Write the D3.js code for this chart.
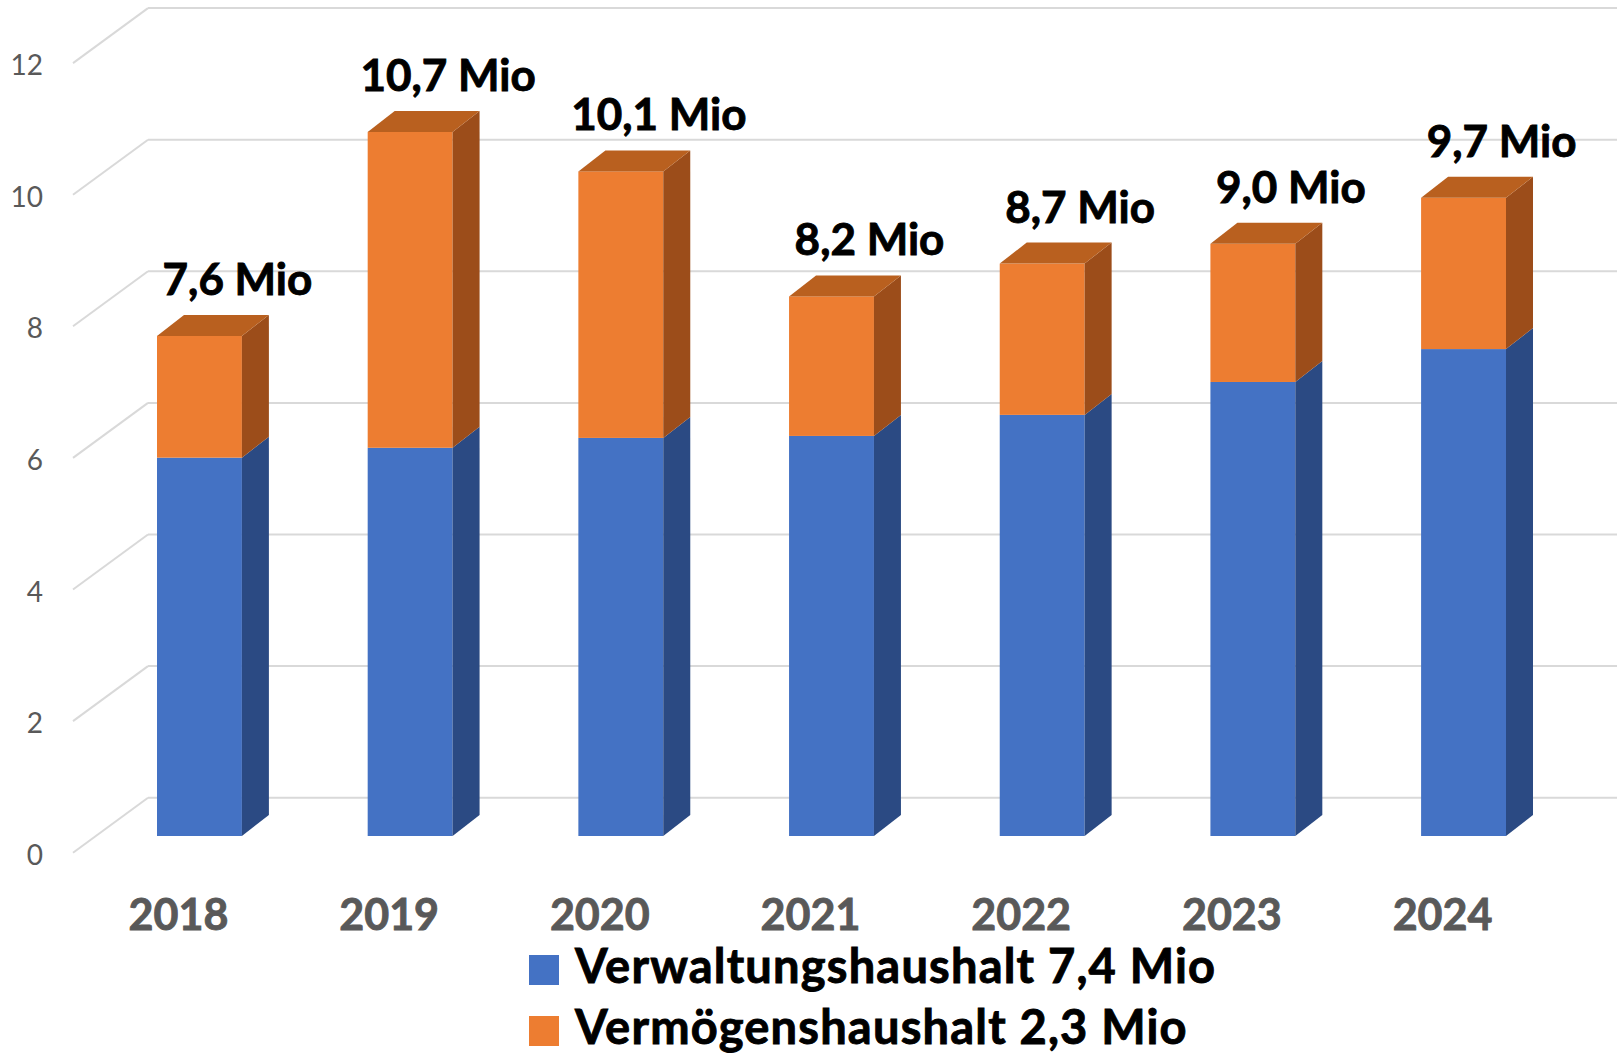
<!DOCTYPE html>
<html>
<head>
<meta charset="utf-8">
<script src="https://cdn.jsdelivr.net/npm/d3@7"></script>
<style>
  html, body { margin: 0; padding: 0; background: #fff; }
  svg { display: block; font-family: Lato, "Noto Sans", sans-serif; }
</style>
</head>
<body>
<svg id="chart" width="1621" height="1053"></svg>
<script>
// data
var years = ['2018', '2019', '2020', '2021', '2022', '2023', '2024'];
var verwaltung = [5.75, 5.9, 6.05, 6.08, 6.4, 6.9, 7.4];
var vermoegen = [1.85, 4.8, 4.05, 2.12, 2.3, 2.1, 2.3];
var totalLabels = ['7,6 Mio', '10,7 Mio', '10,1 Mio', '8,2 Mio', '8,7 Mio', '9,0 Mio', '9,7 Mio'];
var yTicks = [0, 2, 4, 6, 8, 10, 12];
var legendLabels = ['Verwaltungshaushalt 7,4 Mio', 'Vermögenshaushalt 2,3 Mio'];

(function() {
    var svg = d3.select('#chart'),
    // bar depth (3d side) and back wall offset from the bar front plane
    depth = {dx: 27, dy: -21},
    wall = {dy: -38.3, left: 148, right: 1617, fx: -75, fy: 55},
    colors = [
        {front: '#4472C4', side: '#2B4A83', top: '#36609F'},
        {front: '#ED7D31', side: '#9C4D1A', top: '#B9601F'}
    ],
    x, y, stack, g;

    x = d3.scaleBand()
	.domain(years)
	.range([157, 1506])
	.paddingInner(0.597)
	.paddingOuter(0);

    y = d3.scaleLinear()
	.domain([0, 12])
	.range([836, 836 - 12 * 65.8]);

    // back wall gridlines + floor diagonals
    g = svg.append('g').classed('grid', true);
    yTicks.forEach(function(v) {
	var yb = y(v) + wall.dy;
	g.append('line')
	    .attr('x1', wall.left).attr('x2', wall.right)
	    .attr('y1', yb).attr('y2', yb)
	    .attr('stroke', '#D9D9D9').attr('stroke-width', 2);
	g.append('line')
	    .attr('x1', wall.left).attr('x2', wall.left + wall.fx)
	    .attr('y1', yb).attr('y2', yb + wall.fy)
	    .attr('stroke', '#D9D9D9').attr('stroke-width', 2);
	g.append('text')
	    .attr('x', 43)
	    .attr('y', yb + 56)
	    .attr('text-anchor', 'end')
	    .attr('dominant-baseline', 'central')
	    .attr('font-size', 28)
	    .attr('fill', '#595959')
	    .text(v);
    });

    // stacked values
    stack = years.map(function(yr, i) {
	return [[0, verwaltung[i]], [verwaltung[i], verwaltung[i] + vermoegen[i]]];
    });

    var bars = svg.append('g').classed('bars', true);
    years.forEach(function(yr, i) {
	var x0 = x(yr), w = x.bandwidth();
	stack[i].forEach(function(seg, s) {
	    var yBot = y(seg[0]), yTop = y(seg[1]), c = colors[s];
	    bars.append('rect')
		.attr('x', x0).attr('y', yTop)
		.attr('width', w).attr('height', yBot - yTop)
		.attr('fill', c.front);
	    bars.append('polygon')
		.attr('points', [
		    [x0 + w, yTop], [x0 + w + depth.dx, yTop + depth.dy],
		    [x0 + w + depth.dx, yBot + depth.dy], [x0 + w, yBot]
		].join(' '))
		.attr('fill', c.side);
	    if (s === stack[i].length - 1) {
		bars.append('polygon')
		    .attr('points', [
			[x0, yTop], [x0 + depth.dx, yTop + depth.dy],
			[x0 + w + depth.dx, yTop + depth.dy], [x0 + w, yTop]
		    ].join(' '))
		    .attr('fill', c.top);
	    }
	});
	// total label
	bars.append('text')
	    .attr('x', x0 + w / 2 + 38)
	    .attr('y', y(stack[i][1][1]) - 58)
	    .attr('text-anchor', 'middle')
	    .attr('dominant-baseline', 'central')
	    .attr('font-size', 44)
	    .attr('font-weight', 'bold')
	    .attr('fill', '#000')
	    .attr('stroke', '#000').attr('stroke-width', 0.9)
	    .text(totalLabels[i]);
	// category label
	bars.append('text')
	    .attr('x', x0 + w / 2 - 21)
	    .attr('y', 930)
	    .attr('text-anchor', 'middle')
	    .attr('font-size', 43)
	    .attr('font-weight', 'bold')
	    .attr('fill', '#595959')
	    .attr('stroke', '#595959').attr('stroke-width', 0.9)
	    .text(yr);
    });

    // legend
    var legend = svg.append('g').classed('legend', true);
    legendLabels.forEach(function(lbl, i) {
	var row = legend.append('g').attr('transform', 'translate(529,' + (955 + i * 61) + ')');
	row.append('rect')
	    .attr('width', 30).attr('height', 30)
	    .attr('fill', colors[i].front);
	row.append('text')
	    .attr('x', 46).attr('y', 28)
	    .attr('font-size', 47)
	    .attr('font-weight', 'bold')
	    .attr('letter-spacing', 1.2)
	    .attr('fill', '#000')
	    .attr('stroke', '#000').attr('stroke-width', 0.9)
	    .text(lbl);
    });
}).call(this);
</script>
</body>
</html>
